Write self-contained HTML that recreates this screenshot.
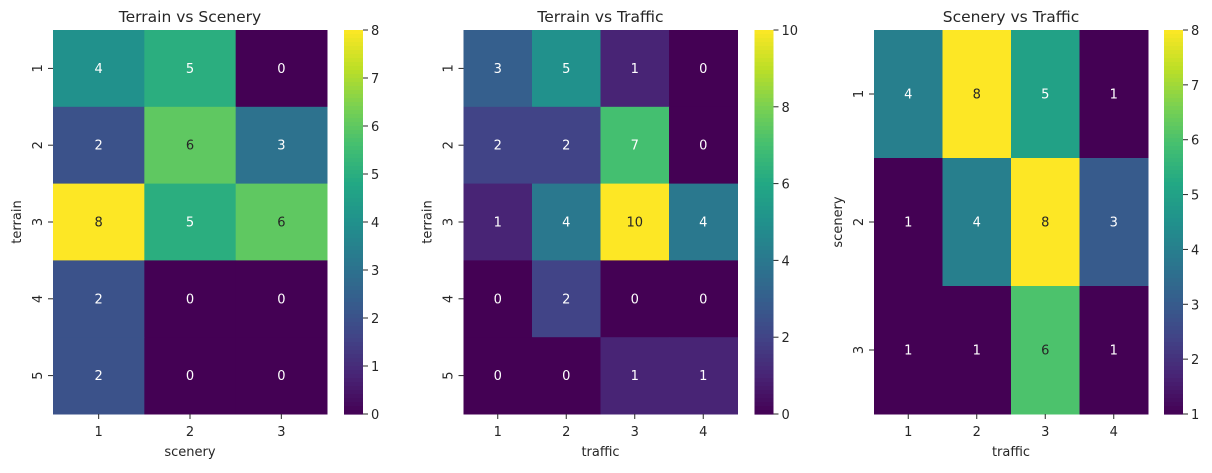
<!DOCTYPE html>
<html><head><meta charset="utf-8"><style>
body{margin:0;background:#fff;}
svg text{font-family:"DejaVu Sans","Liberation Sans",sans-serif;fill:#262626;}
</style></head><body>
<svg id="chart" width="1212" height="468" viewBox="0 0 1212 468" xmlns="http://www.w3.org/2000/svg"></svg>
<script>
// Panel 1: Terrain vs Scenery
const p1Title = "Terrain vs Scenery";
const p1XCats = ["1","2","3"];
const p1YCats = ["1","2","3","4","5"];
const p1Values = [[4,5,0],[2,6,3],[8,5,6],[2,0,0],[2,0,0]];
const p1Ticks = [0,1,2,3,4,5,6,7,8];
// Panel 2: Terrain vs Traffic
const p2Title = "Terrain vs Traffic";
const p2XCats = ["1","2","3","4"];
const p2YCats = ["1","2","3","4","5"];
const p2Values = [[3,5,1,0],[2,2,7,0],[1,4,10,4],[0,2,0,0],[0,0,1,1]];
const p2Ticks = [0,2,4,6,8,10];
// Panel 3: Scenery vs Traffic
const p3Title = "Scenery vs Traffic";
const p3XCats = ["1","2","3","4"];
const p3YCats = ["1","2","3"];
const p3Values = [[4,8,5,1],[1,4,8,3],[1,1,6,1]];
const p3Ticks = [1,2,3,4,5,6,7,8];

const NS="http://www.w3.org/2000/svg";
const svg=document.getElementById('chart');
const VIR=["#440154","#482475","#414487","#355f8d","#2a788e","#21918c","#22a884","#44bf70","#7ad151","#bddf26","#fde725"];
function hex(h){return [1,3,5].map(i=>parseInt(h.substr(i,2),16));}
function viridis(t){t=Math.max(0,Math.min(1,t));const f=t*10,i=Math.min(9,Math.floor(f)),r=f-i;const a=hex(VIR[i]),b=hex(VIR[i+1]);return a.map((v,k)=>Math.round(v+(b[k]-v)*r));}
function relLum(c){const l=c.map(v=>{v/=255;return v<=0.03928?v/12.92:Math.pow((v+0.055)/1.055,2.4);});return 0.2126*l[0]+0.7152*l[1]+0.0722*l[2];}
function mk(tag,attrs,parent){const e=document.createElementNS(NS,tag);for(const k in attrs)e.setAttribute(k,attrs[k]);(parent||svg).appendChild(e);return e;}

function panel(x0,cbx,title,xc,yc,vals,ticks,xlabel,ylabel,id){
  const top=30,bot=414,x1=x0+274;
  const g=mk('g',{});
  
  
  const vmin=Math.min(...vals.flat()),vmax=Math.max(...vals.flat());
  const cw=(x1-x0)/xc.length,ch=(bot-top)/yc.length;
  const xs=i=>x0+cw*(i+0.5), ys=j=>top+ch*(j+0.5);
  vals.forEach((row,j)=>row.forEach((v,i)=>{
    const t=(v-vmin)/(vmax-vmin);const c=viridis(t);
    const r=mk('rect',{x:x0+cw*i,y:top+ch*j,width:cw+0.5,height:ch+0.5,fill:`rgb(${c})`},g);
    
    
    const tx=mk('text',{x:xs(i),y:ys(j)+4.5,'text-anchor':'middle','font-size':13},g);
    tx.setAttribute('style','fill:'+(relLum(c)>0.408?'#262626':'#ffffff'));
    tx.textContent=v;
    
    
  }));
  xc.forEach((c,i)=>{
    mk('line',{x1:xs(i),x2:xs(i),y1:bot,y2:bot+5,stroke:'#262626','stroke-width':1},g);
    const t=mk('text',{x:xs(i),y:bot+22,'text-anchor':'middle','font-size':13},g);t.textContent=c;
    
    
  });
  yc.forEach((c,j)=>{
    mk('line',{x1:x0-5,x2:x0,y1:ys(j),y2:ys(j),stroke:'#262626','stroke-width':1},g);
    const t=mk('text',{x:0,y:0,'text-anchor':'middle','font-size':13,transform:`translate(${x0-11},${ys(j)}) rotate(-90)`},g);t.textContent=c;
    
    
  });
  const tt=mk('text',{x:(x0+x1)/2,y:22,'text-anchor':'middle','font-size':15.5},g);tt.textContent=title;
  
  
  const xl=mk('text',{x:(x0+x1)/2,y:456,'text-anchor':'middle','font-size':13},g);xl.textContent=xlabel;
  
  
  const yl=mk('text',{x:0,y:0,'text-anchor':'middle','font-size':13,transform:`translate(${x0-32},${(top+bot)/2}) rotate(-90)`},g);yl.textContent=ylabel;
  
  
  const cbw=19,n=96;
  for(let k=0;k<n;k++){
    const c=viridis(1-(k+0.5)/n);
    mk('rect',{x:cbx,y:top+(bot-top)*k/n,width:cbw,height:(bot-top)/n+0.6,fill:`rgb(${c})`},g);
  }
  const cbs=v=>bot-(v-vmin)/(vmax-vmin)*(bot-top);
  ticks.forEach(v=>{
    mk('line',{x1:cbx+cbw,x2:cbx+cbw+5,y1:cbs(v),y2:cbs(v),stroke:'#262626','stroke-width':1},g);
    const t=mk('text',{x:cbx+cbw+8,y:cbs(v)+5,'font-size':13},g);t.textContent=v;
    
    
  });
}
panel(53,344,p1Title,p1XCats,p1YCats,p1Values,p1Ticks,"scenery","terrain","terrain-scenery");
panel(463.5,754.5,p2Title,p2XCats,p2YCats,p2Values,p2Ticks,"traffic","terrain","terrain-traffic");
panel(874,1164,p3Title,p3XCats,p3YCats,p3Values,p3Ticks,"traffic","scenery","scenery-traffic");
</script>
</body></html>
